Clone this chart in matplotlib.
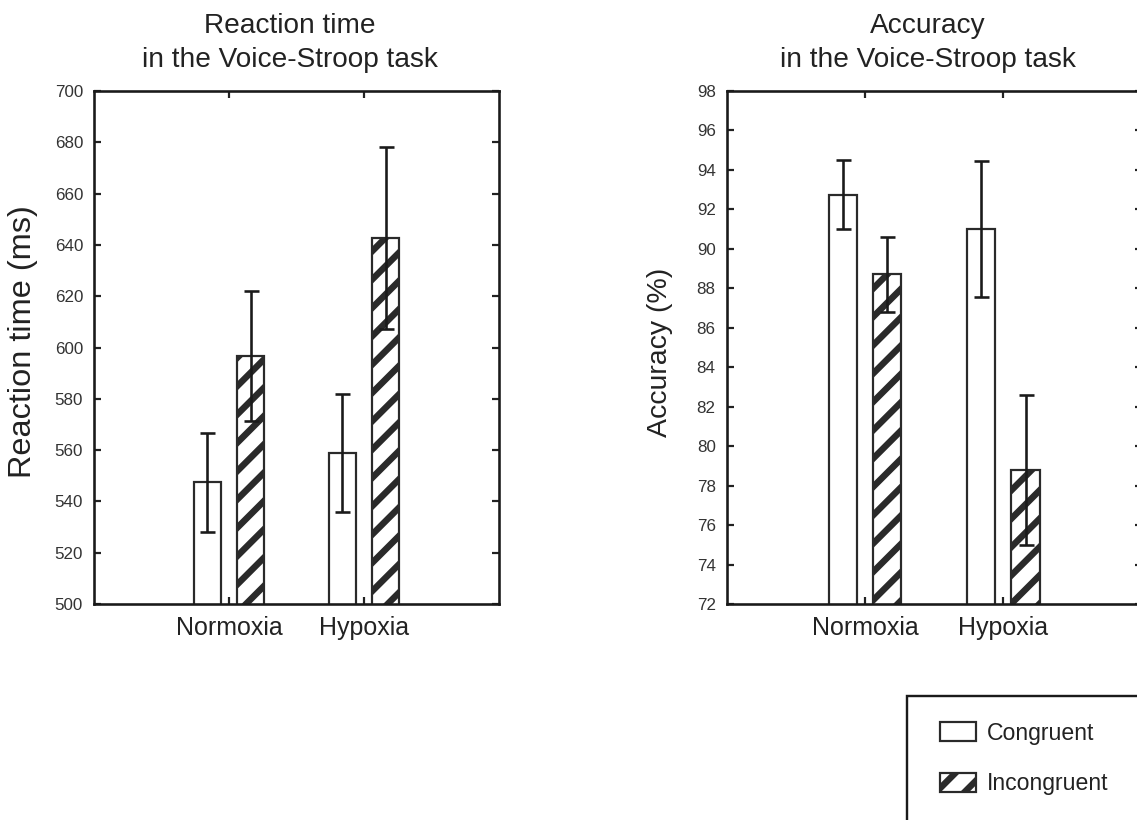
import matplotlib
matplotlib.use("Agg")
import matplotlib.pyplot as plt
from matplotlib.patches import Rectangle, Patch
import numpy as np

# ---- data ----
groups = ["Normoxia", "Hypoxia"]
rt_congruent = [547.4, 559.0]
rt_congruent_err = [19.2, 23.0]
rt_incongruent = [596.7, 642.6]
rt_incongruent_err = [25.5, 35.4]
acc_congruent = [92.75, 91.0]
acc_congruent_err = [1.75, 3.45]
acc_incongruent = [88.7, 78.8]
acc_incongruent_err = [1.9, 3.8]
rt_ticks = list(range(500, 701, 20))
acc_ticks = list(range(72, 99, 2))
legend_labels = ["Congruent", "Incongruent"]

DPI = 170
W, H = 1137, 820
px = 72.0 / DPI  # points per pixel

plt.rcParams["font.family"] = ["Liberation Sans", "DejaVu Sans"]
plt.rcParams["hatch.linewidth"] = 6.5 * px
plt.rcParams["hatch.color"] = "#1e1e1e"

fig = plt.figure(figsize=(W / DPI, H / DPI), dpi=DPI)
fig.patch.set_facecolor("white")

TXT = "#222222"
TICKTXT = "#333333"
EDGE = "#2a2a2a"
HATCH = "//"

def make_axes(rect, cong, cong_err, inc, inc_err, ticks, ylabel, ylabel_size,
              ylabel_xy, title):
    ax = fig.add_axes(rect)
    x = np.arange(len(groups))
    off, wid = 0.16, 0.205
    ax.bar(x - off, cong, width=wid, color="white", edgecolor=EDGE,
           linewidth=2.2 * px, zorder=2)
    ax.bar(x + off, inc, width=wid, color="white", edgecolor=EDGE,
           linewidth=2.2 * px, hatch=HATCH, zorder=2)
    ekw = dict(fmt="none", ecolor="#1a1a1a", elinewidth=2.6 * px,
               capsize=7.5 * px, capthick=2.6 * px, zorder=3)
    ax.errorbar(x - off, cong, yerr=cong_err, **ekw)
    ax.errorbar(x + off, inc, yerr=inc_err, **ekw)
    ax.set_xlim(-1, 2)
    ax.set_ylim(ticks[0], ticks[-1])
    ax.set_yticks(ticks)
    ax.set_yticklabels([str(t) for t in ticks], fontsize=17 * px, color=TICKTXT)
    ax.set_xticks(x)
    ax.set_xticklabels(groups, fontsize=25 * px, color=TXT)
    ax.tick_params(axis="both", direction="in", length=7 * px, width=2.2 * px,
                   top=True, right=True, color="#222222")
    ax.tick_params(axis="y", pad=11 * px)
    ax.tick_params(axis="x", pad=12 * px)
    for s in ax.spines.values():
        s.set_linewidth(2.6 * px)
        s.set_color("#1a1a1a")
    ax.set_ylabel(ylabel, fontsize=ylabel_size * px, color=TXT)
    ax.yaxis.set_label_coords(*ylabel_xy)
    ax.set_title(title, fontsize=28 * px, color=TXT, pad=24 * px, x=0.484,
                 linespacing=1.38)
    return ax

rect_l = [94 / W, (H - 604) / H, 405 / W, 513 / H]
rect_r = [726.7 / W, (H - 604) / H, 415 / W, 513 / H]

make_axes(rect_l, rt_congruent, rt_congruent_err, rt_incongruent,
          rt_incongruent_err, rt_ticks, "Reaction time (ms)", 32.5,
          (-0.138, 0.512), "Reaction time\nin the Voice-Stroop task")
make_axes(rect_r, acc_congruent, acc_congruent_err, acc_incongruent,
          acc_incongruent_err, acc_ticks, "Accuracy (%)", 28.5,
          (-0.129, 0.49), "Accuracy\nin the Voice-Stroop task")

# legend frame extending past the figure edge
frame = Rectangle((906.7 / W, -0.1), 0.3, (H - 696) / H + 0.1,
                  transform=fig.transFigure, fill=False,
                  edgecolor="#1a1a1a", linewidth=2.4 * px)
fig.patches.append(frame)

handles = [Patch(facecolor="white", edgecolor=EDGE, linewidth=2.2 * px),
           Patch(facecolor="white", edgecolor=EDGE, linewidth=2.2 * px, hatch=HATCH)]
fig.legend(handles, legend_labels, loc="upper left",
           bbox_to_anchor=(935 / W, 1 - 717 / H), frameon=False,
           prop={"size": 23 * px}, handlelength=1.6, handleheight=0.92,
           handletextpad=0.45, labelspacing=1.2, borderpad=0.2,
           borderaxespad=0.0, labelcolor=TXT)

fig.savefig("out.png", dpi=DPI, facecolor="white")
